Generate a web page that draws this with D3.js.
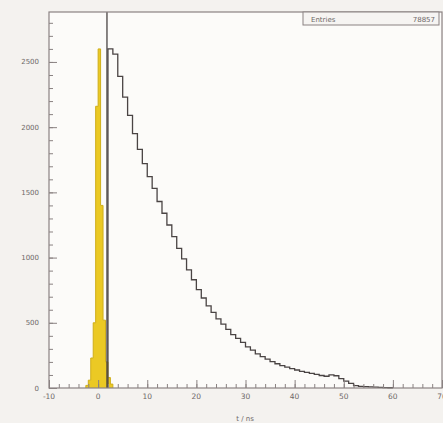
<!DOCTYPE html>
<html><head><meta charset="utf-8">
<script src="https://cdn.jsdelivr.net/npm/d3@7"></script>
<style>body{margin:0;background:#f4f2ef;}svg{display:block;}</style>
</head><body>
<script>
// ---- data ----
const xTickValues = [-10, 0, 10, 20, 30, 40, 50, 60, 70];
const yTickValues = [0, 500, 1000, 1500, 2000, 2500];
// measured-time histogram (1 ns bins starting at 2 ns)
const blackStart = 2;
const blackWidth = 1;
const blackCounts = [2600, 2560, 2390, 2230, 2090, 1950, 1830, 1720, 1620, 1530,
  1430, 1340, 1250, 1160, 1070, 990, 905, 830, 755, 690,
  630, 580, 530, 490, 450, 410, 380, 350, 315, 290,
  262, 240, 222, 202, 186, 172, 160, 148, 138, 128,
  120, 112, 104, 96, 90, 100, 94, 72, 52, 36,
  18, 12, 10, 8, 6, 5, 3, 2];
// prompt-peak histogram (0.5 ns bins starting at -2.5 ns)
const yellowStart = -2.5;
const yellowWidth = 0.5;
const yellowCounts = [20, 60, 230, 500, 2160, 2600, 1400, 520, 200, 80, 30];
const cutValue = 1.8;
const statsLabel = "Entries";
const statsValue = "78857";
const xTitle = "t / ns";

// ---- layout ----
const W = 443, H = 423;
const L = 49, R = 442, T = 12, B = 388;
const svg = d3.select("body").append("svg").attr("width", W).attr("height", H);
const x = d3.scaleLinear().domain([-10, 70]).range([L, R]);
const y = d3.scaleLinear().domain([0, 2883]).range([B, T]);

svg.append("rect").attr("x", L).attr("y", T).attr("width", R - L).attr("height", B - T)
  .attr("fill", "#fcfbf9");

function stepPoints(start, width, counts) {
  const pts = [[start, 0]];
  counts.forEach((c, i) => {
    pts.push([start + i * width, c]);
    pts.push([start + (i + 1) * width, c]);
  });
  pts.push([start + counts.length * width, 0]);
  return pts;
}
const line = d3.line().x(d => x(d[0])).y(d => y(d[1]));

// yellow filled histogram
svg.append("path").datum(stepPoints(yellowStart, yellowWidth, yellowCounts))
  .attr("d", line).attr("fill", "#ebc924").attr("stroke", "#cfae1a").attr("stroke-width", 1);

// black histogram outline
svg.append("path").datum(stepPoints(blackStart, blackWidth, blackCounts))
  .attr("d", line).attr("fill", "none").attr("stroke", "#4a4444").attr("stroke-width", 1.3);

// cut line
svg.append("line").attr("x1", x(cutValue)).attr("x2", x(cutValue))
  .attr("y1", B).attr("y2", T).attr("stroke", "#4a4444").attr("stroke-width", 1.3);

// axes (ticks inside)
const xAxis = d3.axisTop(x).tickValues(xTickValues).tickSize(8).tickFormat("");
const xMinor = d3.axisTop(x).tickValues(d3.range(-10, 70.1, 2)).tickSize(4).tickFormat("");
const gx1 = svg.append("g").attr("transform", `translate(0,${B})`).call(xMinor);
const gx2 = svg.append("g").attr("transform", `translate(0,${B})`).call(xAxis);
const yAxis = d3.axisRight(y).tickValues(yTickValues).tickSize(8).tickFormat("");
const yMinor = d3.axisRight(y).tickValues(d3.range(0, 2801, 100)).tickSize(4).tickFormat("");
const gy1 = svg.append("g").attr("transform", `translate(${L},0)`).call(yMinor);
const gy2 = svg.append("g").attr("transform", `translate(${L},0)`).call(yAxis);
[gx1, gx2, gy1, gy2].forEach(g => {
  g.selectAll(".domain").remove();
  g.selectAll("line").attr("stroke", "#8a8282").attr("stroke-width", 1);
});

// frame
svg.append("rect").attr("x", L).attr("y", T).attr("width", R - L).attr("height", B - T)
  .attr("fill", "none").attr("stroke", "#8a8282").attr("stroke-width", 1.2);

// tick labels
svg.append("g").selectAll("text").data(xTickValues).join("text")
  .attr("x", d => x(d)).attr("y", 399).attr("text-anchor", "middle")
  .attr("font-family", "DejaVu Sans").attr("font-size", 7.5).attr("fill", "#6e6868")
  .text(d => d);
svg.append("g").selectAll("text").data(yTickValues).join("text")
  .attr("x", 39).attr("y", d => y(d) + 2.5).attr("text-anchor", "end")
  .attr("font-family", "DejaVu Sans").attr("font-size", 7).attr("fill", "#6e6868")
  .text(d => d);

// axis title
svg.append("text").attr("x", 245).attr("y", 421).attr("text-anchor", "middle")
  .attr("font-family", "DejaVu Sans").attr("font-size", 7).attr("fill", "#6e6868").text(xTitle);

// stats box
svg.append("rect").attr("x", 303).attr("y", T).attr("width", 136).attr("height", 13)
  .attr("fill", "#f6f4f2").attr("stroke", "#8a8282").attr("stroke-width", 1);
svg.append("text").attr("x", 311).attr("y", 22).attr("font-family", "DejaVu Sans")
  .attr("font-size", 7).attr("fill", "#6e6868").text(statsLabel);
svg.append("text").attr("x", 435).attr("y", 22).attr("text-anchor", "end").attr("font-family", "DejaVu Sans")
  .attr("font-size", 7).attr("fill", "#6e6868").text(statsValue);
</script>
</body></html>
